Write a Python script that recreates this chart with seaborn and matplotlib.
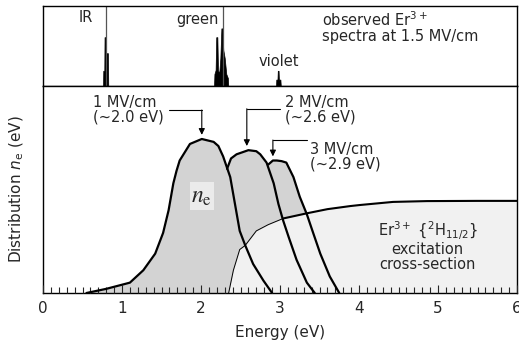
import numpy as np
import pandas as pd
import matplotlib
matplotlib.use("Agg")
import matplotlib.pyplot as plt
import seaborn as sns

# ---------------- data ----------------
# observed Er3+ emission spectrum (top panel)
spec_E = [0.40, 0.760, 0.763, 0.776, 0.779, 0.790, 0.794, 0.822, 0.826,
          2.165, 2.170, 2.185, 2.193, 2.207, 2.215, 2.230, 2.245, 2.258, 2.272,
          2.282, 2.300, 2.320, 2.340, 2.345,
          2.950, 2.953, 2.968, 2.972, 2.982, 2.986, 3.005, 3.010, 3.50]
spec_I = [0.0, 0.0, 0.19, 0.19, 0.61, 0.61, 0.41, 0.41, 0.0,
          0.0, 0.15, 0.20, 0.61, 0.61, 0.20, 0.15, 0.35, 0.72, 0.72,
          0.45, 0.35, 0.15, 0.10, 0.0,
          0.0, 0.08, 0.08, 0.19, 0.19, 0.08, 0.08, 0.0, 0.0]
line_E = [0.797, 2.28]
line_names = ["IR", "green"]

# electron energy distributions n_e
c1_E = [0.55, 0.80, 1.10, 1.27, 1.42, 1.52, 1.59, 1.65, 1.69, 1.73, 1.86, 2.01,
        2.16, 2.22, 2.28, 2.37, 2.43, 2.49, 2.56, 2.66, 2.79, 2.90]
c1_n = [0.0, 0.02, 0.05, 0.11, 0.19, 0.29, 0.40, 0.53, 0.59, 0.64, 0.72, 0.744,
        0.73, 0.71, 0.66, 0.56, 0.43, 0.30, 0.23, 0.14, 0.06, 0.0]
c2_E = [2.33, 2.38, 2.45, 2.60, 2.70, 2.75, 2.83, 2.92, 2.98, 3.04, 3.11, 3.21,
        3.34, 3.44]
c2_n = [0.60, 0.65, 0.67, 0.69, 0.685, 0.67, 0.63, 0.53, 0.43, 0.35, 0.27, 0.16,
        0.05, 0.0]
c3_E = [2.85, 2.91, 2.96, 3.02, 3.08, 3.17, 3.25, 3.34, 3.42, 3.51, 3.63, 3.75]
c3_n = [0.62, 0.64, 0.64, 0.637, 0.63, 0.56, 0.465, 0.38, 0.29, 0.19, 0.08, 0.0]

# Er3+ (2H11/2) excitation cross-section
cs_E = [2.35, 2.41, 2.49, 2.56, 2.70, 2.85, 3.04, 3.34, 3.60, 3.89, 4.01, 4.43,
        4.86, 5.50, 6.00]
cs_s = [0.0, 0.11, 0.21, 0.23, 0.30, 0.33, 0.36, 0.385, 0.405, 0.42, 0.425,
        0.44, 0.444, 0.445, 0.445]

peak_labels = ["1 MV/cm\n(~2.0 eV)", "2 MV/cm\n(~2.6 eV)", "3 MV/cm\n(~2.9 eV)"]
peak_E = [2.01, 2.58, 2.91]

# ---------------- style ----------------
sns.set_theme(style="white")
plt.rcParams['font.family'] = ['DejaVu Sans']
plt.rcParams['mathtext.fontset'] = 'dejavusans'

fig = plt.figure(figsize=(5.19, 3.45), dpi=100)
W, H = 519, 345
left, right = 43 / W, 517 / W
ax_top = fig.add_axes([left, 1 - 86 / H, right - left, 80 / H])
ax = fig.add_axes([left, 1 - 293 / H, right - left, 207 / H])

for a in (ax_top, ax):
    a.set_xlim(0, 6)
    a.set_axisbelow(False)
    for s in a.spines.values():
        s.set_color("black")
        s.set_linewidth(1.0)

FS = 10.5

# ---------------- top panel ----------------
ax_top.set_ylim(0, 1)
ax_top.fill_between(spec_E, spec_I, 0, color="black", lw=0.5, edgecolor="black")
for e in line_E:
    ax_top.axvline(e, color="#555555", lw=0.9)
ax_top.text(line_E[0] - 0.17, 0.86, line_names[0], ha="right", va="center", fontsize=FS)
ax_top.text(line_E[1] - 0.06, 0.83, line_names[1], ha="right", va="center", fontsize=FS)
ax_top.text(2.99, 0.30, "violet", ha="center", va="center", fontsize=FS)
ax_top.text(3.53, 0.735, "observed Er$^{3+}$\nspectra at 1.5 MV/cm", ha="left",
            va="center", fontsize=FS, linespacing=0.95)
ax_top.set_xticks([])
ax_top.set_yticks([])

# ---------------- bottom panel ----------------
ax.set_ylim(0, 1)
gray = "#d3d3d3"
light = "#f1f1f1"
for E, n in ((c1_E, c1_n), (c2_E, c2_n), (c3_E, c3_n)):
    ax.fill_between(E, n, 0, color=gray, lw=0, zorder=1)
ax.fill_between(cs_E, cs_s, 0, color=light, lw=0, zorder=2)

df = pd.concat([
    pd.DataFrame({"E": c1_E, "n": c1_n, "curve": "1 MV/cm"}),
    pd.DataFrame({"E": c2_E, "n": c2_n, "curve": "2 MV/cm"}),
    pd.DataFrame({"E": c3_E, "n": c3_n, "curve": "3 MV/cm"}),
])
sns.lineplot(data=df, x="E", y="n", units="curve", estimator=None, sort=False,
             color="black", lw=1.6, ax=ax, zorder=4, legend=False)
cs_df = pd.DataFrame({"E": cs_E, "s": cs_s})
thin = cs_df[cs_df.E <= 3.04]
thick = cs_df[cs_df.E >= 3.04]
sns.lineplot(data=thin, x="E", y="s", color="black", lw=0.7, ax=ax, zorder=4,
             sort=False)
sns.lineplot(data=thick, x="E", y="s", color="black", lw=1.5, ax=ax, zorder=4,
             sort=False)

# n_e label
ax.text(2.01, 0.47, r"$n_\mathrm{e}$", ha="center", va="center",
        fontsize=17, zorder=5, math_fontfamily="stix",
        bbox=dict(boxstyle="square,pad=0.08", fc="#ebebeb", ec="none"))

# peak annotations
peak_tops = [max(c1_n), max(c2_n), max(c3_n)]
text_x = [0.63, 3.06, 3.38]
text_y = [0.885, 0.885, 0.66]
line_x0 = [1.60, 3.00, 3.34]
bend_y = [0.884, 0.890, 0.739]
for lab, pe, top, tx, ty, x0, by in zip(peak_labels, peak_E, peak_tops, text_x,
                                         text_y, line_x0, bend_y):
    ax.text(tx, ty, lab, ha="left", va="center", fontsize=FS, linespacing=0.95,
            zorder=6)
    ax.plot([x0, pe], [by, by], color="black", lw=0.8, zorder=6)
    ax.annotate("", xy=(pe, top + 0.02), xytext=(pe, by),
                arrowprops=dict(arrowstyle="-|>", color="black", lw=0.8,
                                mutation_scale=9, shrinkA=0, shrinkB=0),
                zorder=6)

ax.text(4.87, 0.225, "Er$^{3+}$ {$^{2}$H$_{11/2}$}\nexcitation\ncross-section",
        ha="center", va="center", fontsize=FS, linespacing=1.0, zorder=5)

# ticks
ax.set_xticks(np.arange(0, 7, 1))
ax.set_xticks(np.arange(0, 6.01, 0.1), minor=True)
ax.set_xticklabels([str(i) for i in range(7)])
ax.tick_params(axis="x", which="major", direction="in", length=6, width=0.8,
               bottom=True, top=False, labelsize=11, pad=6)
ax.tick_params(axis="x", which="minor", direction="in", length=4, width=0.8,
               bottom=True, top=False)
ax.set_yticks([])
ax.set_xlabel("Energy (eV)", fontsize=11, labelpad=6)
ax.set_ylabel(r"Distribution $\mathit{n}_\mathrm{e}$ (eV)", fontsize=11, labelpad=12)

fig.savefig("out.png", dpi=100)
